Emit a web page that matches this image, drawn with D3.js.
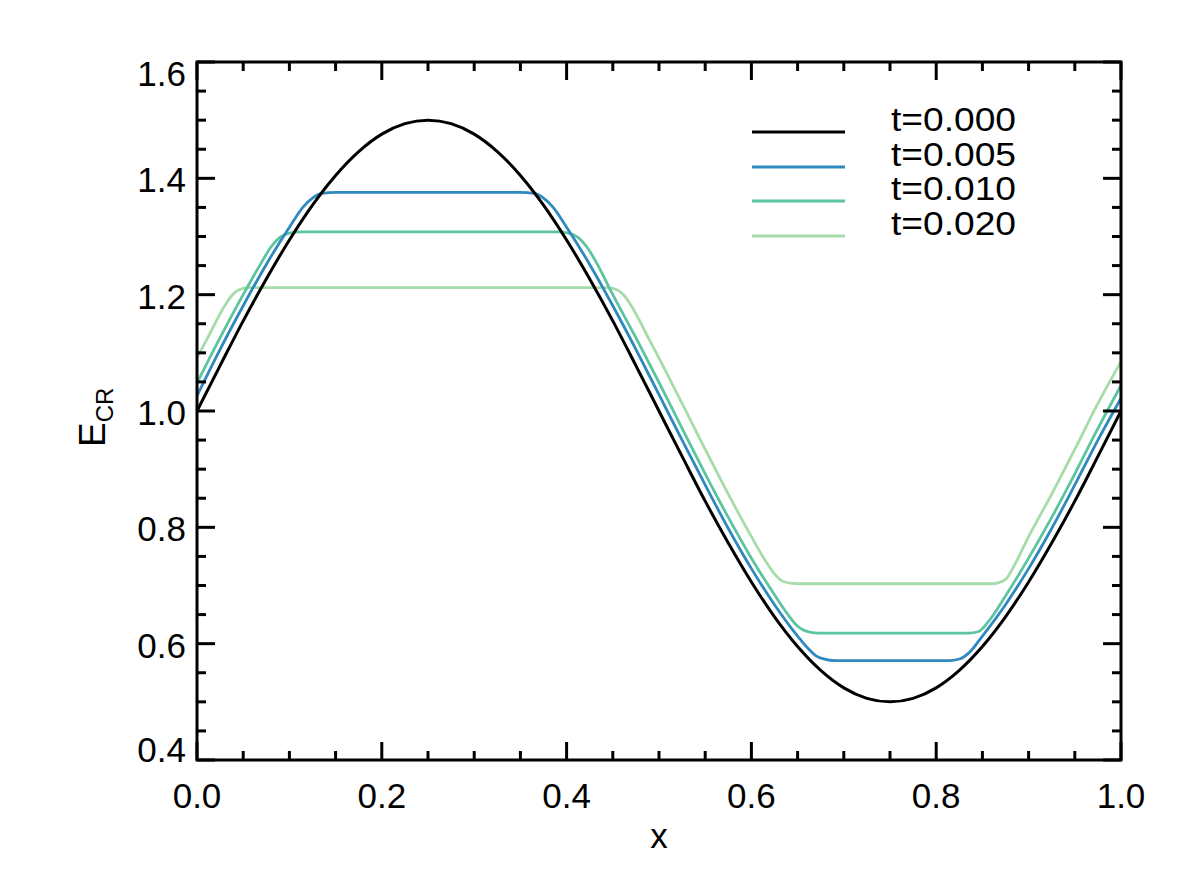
<!DOCTYPE html>
<html>
<head>
<meta charset="utf-8">
<script src="https://cdn.jsdelivr.net/npm/d3@7"></script>
<style>
  html, body { margin: 0; padding: 0; background: #fff; }
  svg { display: block; }
  text { font-family: "Liberation Sans", Arial, Helvetica, sans-serif; fill: #000; }
</style>
</head>
<body>
<svg id="chart" width="1180" height="886"></svg>
<script>
// ---------------- data ----------------
const seriesLabels = ["t=0.000", "t=0.005", "t=0.010", "t=0.020"];
const seriesColors = ["#000000", "#2f89c0", "#5cc4a0", "#a6dcaa"];

const xTickLabels = ["0.0", "0.2", "0.4", "0.6", "0.8", "1.0"];
const yTickLabels = ["0.4", "0.6", "0.8", "1.0", "1.2", "1.4", "1.6"];

// t = 0.000
const curveT000 = [
  [0.000,1.000],[0.025,1.078],[0.050,1.155],[0.075,1.227],[0.100,1.294],[0.125,1.354],
  [0.150,1.405],[0.175,1.446],[0.200,1.476],[0.225,1.494],[0.250,1.500],[0.275,1.494],
  [0.300,1.476],[0.325,1.446],[0.350,1.405],[0.375,1.354],[0.400,1.294],[0.425,1.227],
  [0.450,1.155],[0.475,1.078],[0.500,1.000],[0.525,0.922],[0.550,0.845],[0.575,0.773],
  [0.600,0.706],[0.625,0.646],[0.650,0.595],[0.675,0.554],[0.700,0.524],[0.725,0.506],
  [0.750,0.500],[0.775,0.506],[0.800,0.524],[0.825,0.554],[0.850,0.595],[0.875,0.646],
  [0.900,0.706],[0.925,0.773],[0.950,0.845],[0.975,0.922],[1.000,1.000]
];

// t = 0.005
const curveT005 = [
  [0.000,1.026],[0.025,1.106],[0.050,1.181],[0.075,1.252],[0.100,1.316],[0.115,1.351],
  [0.125,1.366],[0.135,1.374],[0.150,1.376],[0.250,1.376],[0.350,1.376],[0.365,1.374],
  [0.375,1.366],[0.385,1.351],[0.400,1.316],[0.425,1.252],[0.450,1.181],[0.475,1.106],
  [0.500,1.028],[0.525,0.950],[0.550,0.873],[0.575,0.798],[0.600,0.729],[0.625,0.667],
  [0.650,0.613],[0.660,0.594],[0.670,0.579],[0.680,0.573],[0.690,0.571],[0.750,0.571],
  [0.815,0.571],[0.826,0.574],[0.836,0.585],[0.850,0.613],[0.875,0.667],[0.900,0.729],
  [0.925,0.798],[0.950,0.873],[0.975,0.950],[1.000,1.022]
];

// t = 0.010
const curveT010 = [
  [0.000,1.048],[0.025,1.126],[0.050,1.200],[0.070,1.256],[0.080,1.282],[0.090,1.299],
  [0.100,1.306],[0.112,1.308],[0.250,1.308],[0.390,1.308],[0.402,1.306],[0.412,1.299],
  [0.422,1.282],[0.432,1.256],[0.450,1.200],[0.475,1.126],[0.500,1.049],[0.525,0.970],
  [0.550,0.892],[0.575,0.817],[0.600,0.747],[0.625,0.684],[0.640,0.649],[0.650,0.630],
  [0.660,0.621],[0.672,0.618],[0.750,0.618],[0.835,0.618],[0.846,0.621],[0.856,0.637],
  [0.875,0.682],[0.900,0.747],[0.925,0.817],[0.950,0.892],[0.975,0.970],[1.000,1.044]
];

// t = 0.020
const curveT020 = [
  [0.000,1.092],[0.010,1.121],[0.020,1.152],[0.030,1.181],[0.038,1.199],[0.045,1.208],
  [0.056,1.212],[0.250,1.212],[0.444,1.212],[0.455,1.208],[0.462,1.199],[0.470,1.181],
  [0.480,1.152],[0.490,1.121],[0.500,1.091],[0.525,1.013],[0.550,0.934],[0.575,0.857],
  [0.600,0.784],[0.615,0.743],[0.625,0.720],[0.633,0.708],[0.642,0.704],[0.655,0.703],
  [0.750,0.703],[0.860,0.703],[0.868,0.705],[0.876,0.712],[0.884,0.733],[0.900,0.784],
  [0.925,0.857],[0.950,0.934],[0.975,1.013],[1.000,1.085]
];

const allCurves = [curveT000, curveT005, curveT010, curveT020];

// ---------------- layout ----------------
const svg = d3.select("#chart");
const plotL = 197, plotR = 1121, plotT = 62, plotB = 760;

const x = d3.scaleLinear().domain([0, 1]).range([plotL, plotR]);
const y = d3.scaleLinear().domain([0.4, 1.6]).range([plotB, plotT]);

// ---------------- curves ----------------
const line = d3.line()
  .x(d => x(d[0]))
  .y(d => y(d[1]))
  .curve(d3.curveMonotoneX);

const widths = [3, 2.8, 2.8, 2.8];
[3, 2, 1, 0].forEach(i => {
  svg.append("path")
    .datum(allCurves[i])
    .attr("fill", "none")
    .attr("stroke", seriesColors[i])
    .attr("stroke-width", widths[i])
    .attr("stroke-linejoin", "round")
    .attr("d", line);
});

// ---------------- frame + ticks ----------------
const frame = svg.append("g");
frame.append("rect")
  .attr("x", plotL).attr("y", plotT)
  .attr("width", plotR - plotL).attr("height", plotB - plotT)
  .attr("fill", "none").attr("stroke", "#000").attr("stroke-width", 3);

const majLen = 18, minLen = 9;
const xMinor = d3.range(0, 1.0001, 0.05);
const yMinor = d3.range(0.4, 1.6001, 0.05);
const isMajorX = v => Math.abs(v / 0.2 - Math.round(v / 0.2)) < 1e-6;
const isMajorY = v => Math.abs((v - 0.4) / 0.2 - Math.round((v - 0.4) / 0.2)) < 1e-6;

xMinor.forEach(v => {
  const L = isMajorX(v) ? majLen : minLen;
  frame.append("line").attr("x1", x(v)).attr("x2", x(v)).attr("y1", plotB).attr("y2", plotB - L)
    .attr("stroke", "#000").attr("stroke-width", 3);
  frame.append("line").attr("x1", x(v)).attr("x2", x(v)).attr("y1", plotT).attr("y2", plotT + L)
    .attr("stroke", "#000").attr("stroke-width", 3);
});
yMinor.forEach(v => {
  const L = isMajorY(v) ? majLen : minLen;
  frame.append("line").attr("x1", plotL).attr("x2", plotL + L).attr("y1", y(v)).attr("y2", y(v))
    .attr("stroke", "#000").attr("stroke-width", 3);
  frame.append("line").attr("x1", plotR).attr("x2", plotR - L).attr("y1", y(v)).attr("y2", y(v))
    .attr("stroke", "#000").attr("stroke-width", 3);
});

// ---------------- tick labels ----------------
const fs = 35;
xTickLabels.forEach(s => {
  svg.append("text")
    .attr("x", x(+s)).attr("y", 808)
    .attr("text-anchor", "middle")
    .attr("font-size", fs)
    .text(s);
});
yTickLabels.forEach((s, i) => {
  let off = 14;
  if (i === 0) off = 2;
  if (i === yTickLabels.length - 1) off = 24;
  svg.append("text")
    .attr("x", 186).attr("y", y(+s) + off)
    .attr("text-anchor", "end")
    .attr("font-size", fs)
    .text(s);
});

// ---------------- axis titles ----------------
svg.append("text")
  .attr("x", (plotL + plotR) / 2).attr("y", 848)
  .attr("text-anchor", "middle")
  .attr("font-size", fs)
  .text("x");

const yt = svg.append("text")
  .attr("transform", "translate(105,447) rotate(-90)")
  .attr("font-size", 37);
yt.append("tspan").text("E");
yt.append("tspan").attr("font-size", 24).attr("dy", 8).text("CR");

// ---------------- legend ----------------
const legY = [132, 167, 201, 236];
seriesLabels.forEach((lab, i) => {
  svg.append("line")
    .attr("x1", 752).attr("x2", 845)
    .attr("y1", legY[i]).attr("y2", legY[i])
    .attr("stroke", seriesColors[i]).attr("stroke-width", 3);
  svg.append("text")
    .attr("x", 891).attr("y", legY[i] - 1)
    .attr("font-size", 33)
    .attr("textLength", 125)
    .attr("lengthAdjust", "spacingAndGlyphs")
    .text(lab);
});
</script>
</body>
</html>
